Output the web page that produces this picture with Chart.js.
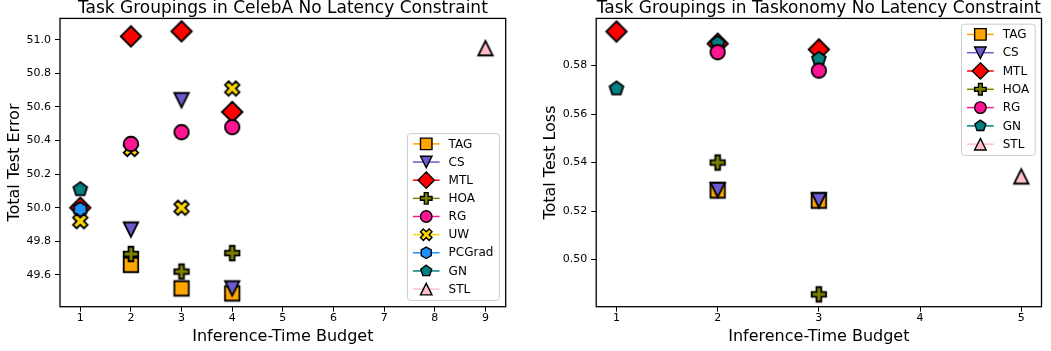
<!DOCTYPE html>
<html><head><meta charset="utf-8">
<script src="https://cdn.jsdelivr.net/npm/chart.js@4.4.0/dist/chart.umd.min.js"></script>
<style>
html,body{margin:0;padding:0;background:#fff;}
#wrap{position:relative;width:1051px;height:351px;overflow:hidden;}
#c1{position:absolute;left:0;top:0;}
#c2{position:absolute;left:525px;top:0;}
</style></head><body>
<div id="wrap"><canvas id="c1" width="525" height="351"></canvas><canvas id="c2" width="526" height="351"></canvas></div>
<script>
// ---------- data ----------
const celebaTitle = 'Task Groupings in CelebA No Latency Constraint';
const taskonomyTitle = 'Task Groupings in Taskonomy No Latency Constraint';
const xAxisLabel = 'Inference-Time Budget';
const celebaYLabel = 'Total Test Error';
const taskonomyYLabel = 'Total Test Loss';

const celebaXTicks = [1, 2, 3, 4, 5, 6, 7, 8, 9];
const celebaYTicks = [49.6, 49.8, 50.0, 50.2, 50.4, 50.6, 50.8, 51.0];
const taskonomyXTicks = [1, 2, 3, 4, 5];
const taskonomyYTicks = [0.50, 0.52, 0.54, 0.56, 0.58];

const celebaMethods = ['TAG', 'CS', 'MTL', 'HOA', 'RG', 'UW', 'PCGrad', 'GN', 'STL'];
const taskonomyMethods = ['TAG', 'CS', 'MTL', 'HOA', 'RG', 'GN', 'STL'];

// [budget, total test error]
const celebaTAG = [[2, 49.66], [3, 49.52], [4, 49.49]];
const celebaCS = [[2, 49.87], [3, 50.64], [4, 49.52]];
const celebaMTL = [[1, 50.00], [2, 51.02], [3, 51.05], [4, 50.57]];
const celebaHOA = [[2, 49.725], [3, 49.62], [4, 49.73]];
const celebaRG = [[2, 50.38], [3, 50.45], [4, 50.48]];
const celebaUW = [[1, 49.92], [2, 50.35], [3, 50.00], [4, 50.71]];
const celebaPCGrad = [[1, 49.99]];
const celebaGN = [[1, 50.11]];
const celebaSTL = [[9, 50.95]];

// [budget, total test loss]
const taskonomyTAG = [[2, 0.5285], [3, 0.5243]];
const taskonomyCS = [[2, 0.5287], [3, 0.5245]];
const taskonomyMTL = [[1, 0.5940], [2, 0.5890], [3, 0.5866]];
const taskonomyHOA = [[2, 0.5400], [3, 0.4857]];
const taskonomyRG = [[2, 0.5855], [3, 0.5779]];
const taskonomyGN = [[1, 0.5705], [2, 0.5892], [3, 0.5827]];
const taskonomySTL = [[5, 0.5343]];

const celebaSeries = {TAG: celebaTAG, CS: celebaCS, MTL: celebaMTL, HOA: celebaHOA, RG: celebaRG,
  UW: celebaUW, PCGrad: celebaPCGrad, GN: celebaGN, STL: celebaSTL};
const taskonomySeries = {TAG: taskonomyTAG, CS: taskonomyCS, MTL: taskonomyMTL, HOA: taskonomyHOA,
  RG: taskonomyRG, GN: taskonomyGN, STL: taskonomySTL};

// ---------- styles ----------
const STYLE = {
  TAG:    {color: '#FFA500', shape: 'square',   z: 1},
  CS:     {color: '#6A5ACD', shape: 'tri_down', z: 3},
  MTL:    {color: '#FF0000', shape: 'diamond',  z: 2},
  HOA:    {color: '#808000', shape: 'plus',     z: 3.5},
  RG:     {color: '#FF1493', shape: 'circle',   z: 7},
  UW:     {color: '#FFD700', shape: 'x',        z: 5},
  PCGrad: {color: '#1E90FF', shape: 'hexagon',  z: 4},
  GN:     {color: '#008080', shape: 'pentagon', z: 6},
  STL:    {color: '#FFC0CB', shape: 'tri_up',   z: 8}
};
const FONT = "'DejaVu Sans', sans-serif";
Chart.defaults.font.family = FONT;
Chart.defaults.color = '#000';

function shapePath(ctx, shape, cx, cy, ms) {
  const h = ms / 2;
  ctx.beginPath();
  const poly = (pts, s) => {
    pts.forEach((p, i) => { const x = cx + p[0] * s, y = cy + p[1] * s; i ? ctx.lineTo(x, y) : ctx.moveTo(x, y); });
    ctx.closePath();
  };
  const reg = (n, r) => {
    for (let k = 0; k < n; k++) {
      const a = -Math.PI / 2 + k * 2 * Math.PI / n;
      const x = cx + r * Math.cos(a), y = cy + r * Math.sin(a);
      k ? ctx.lineTo(x, y) : ctx.moveTo(x, y);
    }
    ctx.closePath();
  };
  switch (shape) {
    case 'square': ctx.rect(cx - h, cy - h, ms, ms); break;
    case 'tri_down': poly([[0, 1], [-1, -1], [1, -1]], h); break;
    case 'tri_up': poly([[0, -1], [-1, 1], [1, 1]], h); break;
    case 'diamond': poly([[0, -1], [1, 0], [0, 1], [-1, 0]], ms * 0.7071); break;
    case 'plus': poly([[-1, -3], [1, -3], [1, -1], [3, -1], [3, 1], [1, 1], [1, 3], [-1, 3], [-1, 1], [-3, 1], [-3, -1], [-1, -1]], ms / 6); break;
    case 'x': poly([[-1, -2], [0, -1], [1, -2], [2, -1], [1, 0], [2, 1], [1, 2], [0, 1], [-1, 2], [-2, 1], [-1, 0], [-2, -1]], ms / 4); break;
    case 'circle': ctx.arc(cx, cy, h, 0, Math.PI * 2); ctx.closePath(); break;
    case 'pentagon': reg(5, h); break;
    case 'hexagon': reg(6, h); break;
  }
}
function drawMarker(ctx, name, cx, cy, ms, lw) {
  const st = STYLE[name];
  shapePath(ctx, st.shape, cx, cy, ms);
  ctx.fillStyle = st.color;
  ctx.fill();
  ctx.lineWidth = lw;
  ctx.strokeStyle = '#000';
  ctx.lineJoin = 'miter';
  ctx.stroke();
}
function markerImage(name, ms, lw) {
  const c = document.createElement('canvas');
  c.width = 30; c.height = 30;
  drawMarker(c.getContext('2d'), name, 15, 15, ms, lw);
  return c;
}

// ---------- plugins ----------
const decorPlugin = {
  id: 'decor',
  afterDraw(chart, args, o) {
    const ctx = chart.ctx, a = chart.chartArea;
    ctx.save();
    // frame
    ctx.strokeStyle = '#000';
    ctx.lineWidth = 1.3;
    ctx.strokeRect(a.left, a.top, a.right - a.left, a.bottom - a.top);
    // title
    ctx.fillStyle = '#000';
    ctx.font = '17px ' + FONT;
    ctx.textAlign = 'center';
    ctx.textBaseline = 'alphabetic';
    ctx.fillText(o.title, (a.left + a.right) / 2, o.titleY);
    // legend
    const names = o.names;
    ctx.font = '12px ' + FONT;
    let maxW = 0;
    names.forEach(n => { maxW = Math.max(maxW, ctx.measureText(n).width); });
    const padL = 5.5, lineLen = 26.7, gap = 9, padR = 6, rowH = o.rowH, padT = 10.2, padB = 11.3;
    const w = padL + lineLen + gap + maxW + padR;
    const h = padT + (names.length - 1) * rowH + padB;
    const right = a.right - 6.3;
    const top = o.legendPos === 'lower' ? a.bottom - 6.3 - h : a.top + 5.8;
    const left = right - w;
    ctx.beginPath();
    if (ctx.roundRect) ctx.roundRect(left, top, w, h, 3); else ctx.rect(left, top, w, h);
    ctx.fillStyle = 'rgba(255,255,255,0.8)';
    ctx.fill();
    ctx.strokeStyle = '#cccccc';
    ctx.lineWidth = 1;
    ctx.stroke();
    names.forEach((n, i) => {
      const y = top + padT + i * rowH;
      const x0 = left + padL;
      ctx.beginPath();
      ctx.moveTo(x0, y); ctx.lineTo(x0 + lineLen, y);
      ctx.strokeStyle = STYLE[n].color;
      ctx.lineWidth = 1.5;
      ctx.stroke();
      drawMarker(ctx, n, x0 + lineLen / 2, y, 11.5, 1.4);
      ctx.fillStyle = '#000';
      ctx.textAlign = 'left';
      ctx.textBaseline = 'middle';
      ctx.fillText(n, x0 + lineLen + gap, y + 0.5);
    });
    ctx.restore();
  }
};

function buildChart(canvas, cfg) {
  const datasets = cfg.names.map(n => ({
    label: n,
    data: cfg.series[n].map(p => ({x: p[0], y: p[1]})),
    pointStyle: markerImage(n, 14.5, 1.8),
    pointRadius: 8,
    pointHoverRadius: 8,
    showLine: false,
    order: 10 - STYLE[n].z,
    clip: false
  }));
  return new Chart(canvas, {
    type: 'scatter',
    data: {datasets},
    options: {
      responsive: false,
      animation: false,
      devicePixelRatio: 1,
      events: [],
      layout: {padding: {left: 0, right: cfg.padRight, top: 18.4, bottom: 0}},
      plugins: {
        legend: {display: false},
        tooltip: {enabled: false},
        title: {display: false},
        decor: {title: cfg.title, titleY: 13.4, names: cfg.names, legendPos: cfg.legendPos, rowH: cfg.rowH}
      },
      scales: {
        x: {
          type: 'linear', position: 'bottom', min: cfg.xMin, max: cfg.xMax,
          afterBuildTicks: s => { s.ticks = cfg.xTicks.map(v => ({value: v})); },
          afterFit: s => { s.height = 44.3; },
          ticks: {font: {size: 11}, color: '#000', padding: 0, maxRotation: 0, autoSkip: false,
                  callback: v => String(v)},
          grid: {display: true, drawOnChartArea: false, drawTicks: true, tickLength: 5, color: '#000', lineWidth: 1},
          border: {display: false},
          title: {display: true, text: xAxisLabel, font: {size: 16}, color: '#000', padding: {top: 0, bottom: 4.7}}
        },
        y: {
          type: 'linear', position: 'left', min: cfg.yMin, max: cfg.yMax,
          afterBuildTicks: s => { s.ticks = cfg.yTicks.map(v => ({value: v})); },
          afterFit: s => { s.width = cfg.yWidth; },
          ticks: {font: {size: 11}, color: '#000', padding: 4, autoSkip: false,
                  callback: v => v.toFixed(cfg.yDec)},
          grid: {display: true, drawOnChartArea: false, drawTicks: true, tickLength: 5, color: '#000', lineWidth: 1},
          border: {display: false},
          title: {display: true, text: cfg.yLabel, font: {size: 16}, color: '#000', padding: {top: cfg.yTitlePad, bottom: 0}}
        }
      }
    },
    plugins: [decorPlugin]
  });
}

buildChart(document.getElementById('c1'), {
  title: celebaTitle, names: celebaMethods, series: celebaSeries,
  xTicks: celebaXTicks, yTicks: celebaYTicks, xMin: 0.6, xMax: 9.4, yMin: 49.411, yMax: 51.127,
  yDec: 1, yLabel: celebaYLabel, yWidth: 60, yTitlePad: 5.4, padRight: 19.3, legendPos: 'lower', rowH: 18.15
});
buildChart(document.getElementById('c2'), {
  title: taskonomyTitle, names: taskonomyMethods, series: taskonomySeries,
  xTicks: taskonomyXTicks, yTicks: taskonomyYTicks, xMin: 0.8, xMax: 5.2, yMin: 0.4806, yMax: 0.5994,
  yDec: 2, yLabel: taskonomyYLabel, yWidth: 71.2, yTitlePad: 16.4, padRight: 9.5, legendPos: 'upper', rowH: 18.3
});
</script>
</body></html>
